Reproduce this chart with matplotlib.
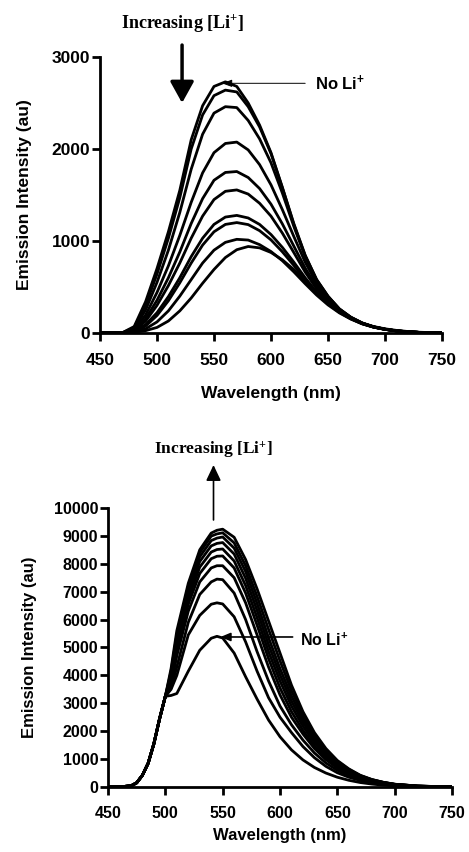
import matplotlib
matplotlib.use("Agg")
import matplotlib.pyplot as plt

plt.rcParams["font.family"] = ["Liberation Sans", "DejaVu Sans"]
plt.rcParams["mathtext.default"] = "regular"

# -----------------------------
# TOP PANEL DATA (emission decreases with Li+)
# -----------------------------
wl_top = [450, 460, 470, 480, 490, 500, 510, 520, 530, 540, 550, 560, 570, 580, 590, 600,
          610, 620, 630, 640, 650, 660, 670, 680, 690, 700, 710, 720, 730, 740, 750]

top_no_li = [0, 0, 5, 70, 340, 700, 1100, 1550, 2100, 2470, 2680, 2730, 2680, 2500, 2260, 1960,
             1580, 1180, 840, 580, 400, 260, 170, 108, 66, 40, 22, 12, 6, 3, 0]
top_2 = [0, 0, 4, 60, 300, 640, 1030, 1470, 2000, 2370, 2580, 2640, 2620, 2460, 2240, 1950,
         1580, 1190, 845, 580, 398, 262, 172, 109, 67, 41, 23, 13, 6, 3, 0]
top_3 = [0, 0, 3, 48, 250, 550, 900, 1310, 1780, 2160, 2390, 2460, 2450, 2310, 2110, 1850,
         1520, 1160, 830, 570, 392, 258, 170, 108, 66, 41, 23, 13, 6, 3, 0]
top_4 = [0, 0, 2, 38, 195, 440, 730, 1060, 1420, 1740, 1960, 2060, 2075, 1990, 1830, 1610,
         1340, 1050, 770, 540, 375, 250, 166, 106, 66, 41, 23, 13, 6, 3, 0]
top_5 = [0, 0, 2, 30, 155, 355, 600, 880, 1190, 1460, 1660, 1745, 1755, 1690, 1570, 1400,
         1185, 945, 705, 505, 355, 242, 163, 104, 65, 40, 23, 13, 6, 3, 0]
top_6 = [0, 0, 2, 25, 128, 300, 515, 760, 1030, 1270, 1450, 1540, 1555, 1510, 1410, 1270,
         1085, 875, 662, 480, 345, 238, 161, 103, 65, 40, 23, 13, 6, 3, 0]
top_7 = [0, 0, 1, 18, 90, 220, 395, 600, 830, 1030, 1180, 1260, 1278, 1250, 1180, 1070,
         930, 770, 600, 445, 325, 228, 156, 101, 64, 39, 22, 12, 6, 3, 0]
top_8 = [0, 0, 1, 15, 75, 190, 350, 545, 760, 955, 1100, 1180, 1200, 1178, 1112, 1012,
         882, 735, 577, 432, 318, 224, 154, 100, 63, 39, 22, 12, 6, 3, 0]
top_9 = [0, 0, 1, 10, 45, 120, 240, 400, 580, 760, 900, 985, 1018, 1010, 960, 885,
         785, 665, 535, 412, 305, 218, 151, 99, 63, 39, 22, 12, 6, 3, 0]
top_10 = [0, 0, 1, 7, 25, 60, 130, 240, 380, 540, 690, 820, 905, 940, 925, 875,
          795, 690, 565, 437, 324, 233, 161, 106, 70, 45, 28, 16, 8, 4, 0]

top_series = [top_no_li, top_2, top_3, top_4, top_5, top_6, top_7, top_8, top_9, top_10]

# -----------------------------
# BOTTOM PANEL DATA (emission increases with Li+)
# -----------------------------
wl_bot = [450, 460, 470, 475, 480, 485, 490, 495, 500, 505, 510, 520, 530, 540, 545, 550,
          560, 570, 580, 590, 600, 610, 620, 630, 640, 650, 660, 670, 680, 690, 700, 720, 750]

rise = [0, 5, 40, 150, 420, 850, 1550, 2450, 3250]   # shared rising edge 450-500 nm

bot_no_li = rise + [3280, 3350, 4150, 4900, 5330, 5400, 5340, 4800, 3950, 3150, 2400, 1800,
                    1330, 970, 700, 500, 350, 240, 160, 105, 65, 40, 12, 0]
bot_2 = rise + [3500, 4000, 5450, 6150, 6550, 6600, 6560, 6100, 5200, 4150, 3200, 2500,
                1950, 1450, 1050, 740, 510, 350, 235, 155, 100, 62, 18, 0]
bot_3 = rise + [3550, 4300, 5900, 6900, 7350, 7450, 7430, 6950, 6000, 4850, 3800, 2900,
                2230, 1680, 1220, 860, 600, 410, 275, 180, 115, 70, 22, 0]
bot_4 = rise + [3650, 4700, 6300, 7350, 7850, 7930, 7930, 7500, 6600, 5450, 4300, 3300,
                2500, 1900, 1380, 980, 680, 470, 315, 205, 130, 80, 25, 0]
bot_5 = rise + [3750, 4850, 6550, 7650, 8180, 8270, 8280, 7850, 6950, 5800, 4600, 3550,
                2700, 2030, 1480, 1060, 740, 510, 340, 220, 140, 85, 27, 0]
bot_6 = rise + [3850, 5000, 6750, 7880, 8420, 8510, 8530, 8100, 7220, 6070, 4850, 3800,
                2900, 2180, 1590, 1140, 790, 545, 365, 235, 150, 90, 29, 0]
bot_7 = rise + [3950, 5150, 6950, 8080, 8640, 8730, 8760, 8350, 7480, 6330, 5100, 4020,
                3080, 2320, 1690, 1210, 840, 575, 385, 248, 158, 94, 31, 0]
bot_8 = rise + [4050, 5300, 7100, 8250, 8830, 8920, 8960, 8560, 7720, 6580, 5350, 4240,
                3260, 2450, 1790, 1280, 880, 605, 400, 258, 163, 96, 32, 0]
bot_9 = rise + [4150, 5450, 7200, 8400, 8990, 9070, 9110, 8750, 7930, 6830, 5650, 4520,
                3450, 2580, 1870, 1330, 920, 630, 410, 265, 167, 98, 34, 0]
bot_10 = rise + [4250, 5600, 7300, 8500, 9100, 9200, 9240, 8950, 8150, 7100, 5950, 4800,
                 3650, 2700, 1950, 1380, 950, 650, 420, 270, 170, 100, 35, 0]

bot_series = [bot_no_li, bot_2, bot_3, bot_4, bot_5, bot_6, bot_7, bot_8, bot_9, bot_10]

x_ticks = [450, 500, 550, 600, 650, 700, 750]
top_yticks = [0, 1000, 2000, 3000]
bot_yticks = list(range(0, 10001, 1000))

label_li = r"Increasing [Li$^{+}$]"
label_none = r"No Li$^{+}$"

# -----------------------------
# FIGURE
# -----------------------------
fig = plt.figure(figsize=(4.69, 8.52), dpi=100)
ax1 = fig.add_axes([0.2132, 0.6092, 0.7292, 0.3239])
ax2 = fig.add_axes([0.2303, 0.0763, 0.7335, 0.3275])


def style_axes(ax, yticks, ymax, tick_size, label_size, xpad, xlabelpad, ylabelpad):
    ax.set_xlim(450, 750)
    ax.set_ylim(0, ymax)
    ax.set_xticks(x_ticks)
    ax.set_yticks(yticks)
    for side in ["top", "right"]:
        ax.spines[side].set_visible(False)
    for side in ["left", "bottom"]:
        ax.spines[side].set_linewidth(2.0)
    ax.tick_params(direction="out", length=5.5, width=2, labelsize=tick_size)
    ax.tick_params(axis="x", pad=xpad)
    ax.tick_params(axis="y", pad=1.5)
    for lab in ax.get_xticklabels() + ax.get_yticklabels():
        lab.set_fontweight("bold")
    ax.set_xlabel("Wavelength (nm)", fontsize=label_size, fontweight="bold", labelpad=xlabelpad)
    ax.set_ylabel("Emission Intensity (au)", fontsize=label_size, fontweight="bold",
                  labelpad=ylabelpad)


for s in top_series:
    ax1.plot(wl_top, s, color="black", lw=2.0, solid_joinstyle="round")
style_axes(ax1, top_yticks, 3000, 12.5, 12.5, 9, 13, 14)

for s in bot_series:
    ax2.plot(wl_bot, s, color="black", lw=2.0, solid_joinstyle="round")
style_axes(ax2, bot_yticks, 10000, 11.5, 12, 8, 5, 12)

# top annotations
ax1.text(522, 3370, label_li, family="Liberation Serif", fontweight="bold", fontsize=13,
         ha="center", va="center", clip_on=False)
ax1.annotate("", xy=(522, 2500), xytext=(522, 3130), annotation_clip=False,
             arrowprops=dict(arrowstyle="-|>,head_length=1.3,head_width=0.72",
                             color="black", lw=2.5, shrinkA=0, shrinkB=0))
ax1.annotate("", xy=(557, 2714), xytext=(630, 2714),
             arrowprops=dict(arrowstyle="-|>,head_length=0.6,head_width=0.22",
                             color="black", lw=0.7, shrinkA=0, shrinkB=0))
ax1.text(639, 2714, label_none, fontweight="bold", fontsize=12, ha="left", va="center")

# bottom annotations
ax2.text(542, 12080, label_li, family="Liberation Serif", fontweight="bold", fontsize=12.5,
         ha="center", va="center", clip_on=False)
ax2.annotate("", xy=(542, 11540), xytext=(542, 9570), annotation_clip=False,
             arrowprops=dict(arrowstyle="-|>,head_length=0.95,head_width=0.45",
                             color="black", lw=1.2, shrinkA=0, shrinkB=0))
ax2.annotate("", xy=(548, 5376), xytext=(611, 5376),
             arrowprops=dict(arrowstyle="-|>,head_length=0.6,head_width=0.25",
                             color="black", lw=1.2, shrinkA=0, shrinkB=0))
ax2.text(617, 5270, label_none, fontweight="bold", fontsize=11.5, ha="left", va="center")

fig.savefig("out.png", dpi=100)
